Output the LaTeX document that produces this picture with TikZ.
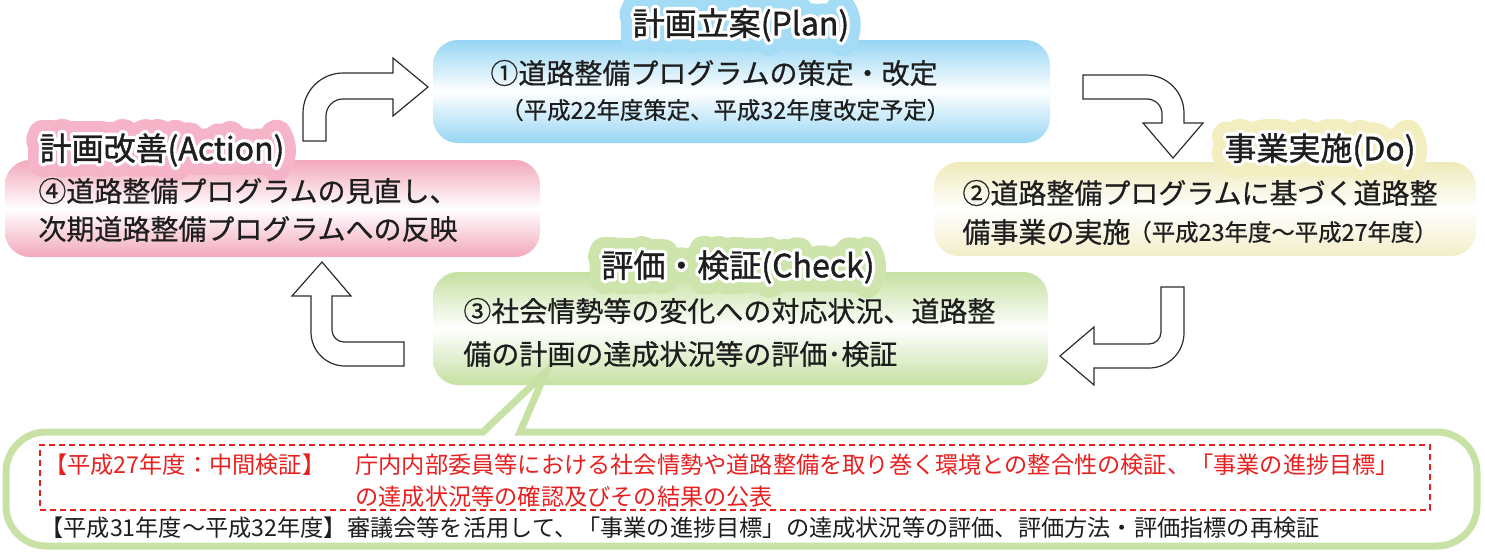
\documentclass[tikz,border=0pt]{standalone}
\usepackage{fontspec}
\newfontfamily\jp{Noto Sans CJK JP}
\newfontfamily\jpb[FakeBold=0.6]{Noto Sans CJK JP}
\newfontfamily\jpt[FakeBold=1.2]{Noto Sans CJK JP}
\newfontfamily\jphalo[FakeBold=90]{Noto Sans CJK JP}
\newfontfamily\jpring[FakeBold=22]{Noto Sans CJK JP}
\definecolor{ink}{RGB}{30,30,30}
\definecolor{pblue}{RGB}{150,214,243}
\definecolor{pyellow}{RGB}{239,234,186}
\definecolor{ppink}{RGB}{242,168,187}
\definecolor{pgreen}{RGB}{198,224,162}
\definecolor{hblue}{RGB}{165,220,245}
\definecolor{hyellow}{RGB}{243,238,192}
\definecolor{hpink}{RGB}{245,180,199}
\definecolor{hgreen}{RGB}{205,229,172}
\definecolor{cgreen}{RGB}{200,226,166}
\definecolor{pred}{RGB}{232,32,32}
\definecolor{arrowline}{RGB}{45,45,45}
\tikzset{
  box/.style={rounded corners=12.5pt, inner sep=0pt, shading=axis},
  txt/.style={font=\jpb\fontsize{14}{16}\selectfont, anchor=west, inner sep=0pt, text=ink},
  small/.style={font=\jpb\fontsize{11.7}{13}\selectfont, anchor=west, inner sep=0pt, text=ink},
  note/.style={font=\jp\fontsize{11.6}{13}\selectfont, anchor=west, inner sep=0pt},
  ttl/.style={font=\jpt\fontsize{16}{18}\selectfont, inner sep=0pt, text=ink},
  halo/.style={font=\jphalo\fontsize{16}{18}\selectfont, inner sep=0pt, line join=round, line cap=round},
  ring/.style={font=\jpring\fontsize{16}{18}\selectfont, inner sep=0pt, text=white, line join=round, line cap=round},
  blockarrow/.style={draw=arrowline, line width=0.6pt, fill=white, line join=miter},
  callout/.style={draw=cgreen, line width=3.5pt, fill=white, line join=miter},
  redframe/.style={draw=pred, line width=0.8pt, dash pattern=on 3pt off 2pt, inner sep=0pt}
}
\newcommand\glowtitle[4]{%
  \begin{scope}[line join=round]
  \node[halo,text=#3] at (#2) {\special{pdf:literal direct 1 j 1 J}#4};
  \node[ring] at (#2) {\special{pdf:literal direct 1 j 1 J}#4};
  \end{scope}
  \node[ttl] (#1) at (#2) {#4};
}
\begin{document}
\begin{tikzpicture}[x=0.5pt,y=-0.5pt]
\useasboundingbox (0,0) rectangle (1485,552);
% boxes
\node[box, top color=pblue, bottom color=pblue, middle color=white, minimum width=308.5pt, minimum height=51.5pt] (plan) at (741.5,91.5) {};
\node[box, top color=pyellow, bottom color=pyellow!80, middle color=white, minimum width=271pt, minimum height=47pt] (do) at (1205,209) {};
\node[box, top color=ppink, bottom color=ppink, middle color=white, minimum width=267.5pt, minimum height=48.5pt] (act) at (272.5,208.5) {};
\node[box, top color=pgreen, bottom color=pgreen, middle color=white, minimum width=307.5pt, minimum height=56.5pt] (check) at (740.5,328.5) {};
% block arrows
\draw[blockarrow] (303,141) -- (303,113) .. controls (303,91) and (321,73) .. (343,73) -- (393,73) -- (393,58) -- (428,87) -- (393,116) -- (393,99) -- (343,99) .. controls (333.6,99) and (326,106.6) .. (326,116) -- (326,141) -- cycle;
\draw[blockarrow] (1083,75) -- (1146,75) .. controls (1167,75) and (1184,92) .. (1184,113) -- (1184,123) -- (1203,123) -- (1173,158) -- (1143,123) -- (1162,123) -- (1162,114) .. controls (1162,105.7) and (1155.3,99) .. (1147,99) -- (1083,99) -- cycle;
\draw[blockarrow] (1161,287) -- (1184,287) -- (1184,333) .. controls (1184,352.3) and (1168.3,368) .. (1149,368) -- (1094,368) -- (1094,385) -- (1060,356) -- (1094,327) -- (1094,344) -- (1149,344) .. controls (1155.6,344) and (1161,338.6) .. (1161,332) -- cycle;
\draw[blockarrow] (322,262) -- (351,296) -- (332,296) -- (332,330) .. controls (332,336.6) and (337.4,342) .. (344,342) -- (404,342) -- (404,366) -- (345,366) .. controls (326.2,366) and (311,350.8) .. (311,332) -- (311,296) -- (292,296) -- cycle;
% callout
\draw[callout] (520,432) -- (1437,432) .. controls (1459,432) and (1477,450) .. (1477,472) -- (1477,506) .. controls (1477,528) and (1459,546) .. (1437,546) -- (46,546) .. controls (24,546) and (6,528) .. (6,506) -- (6,472) .. controls (6,450) and (24,432) .. (46,432) -- (483,432) -- (546,372) -- cycle;
\node[redframe, minimum width=695pt, minimum height=32.5pt] (frame) at (735,477.5) {};
% titles
\glowtitle{plantitle}{741,25}{hblue}{計画立案(Plan)}
\glowtitle{dotitle}{1320,150}{hyellow}{事業実施(Do)}
\glowtitle{acttitle}{162,150}{hpink}{計画改善(Action)}
\glowtitle{checktitle}{738,267}{hgreen}{評価・検証(Check)}
% box texts
\node[txt] (plan1) at (490,73) {①道路整備プログラムの策定・改定};
\node[small] (plan2) at (500,110) {（平成22年度策定、平成32年度改定予定）};
\node[txt] (do1) at (962,193) {②道路整備プログラムに基づく道路整};
\node[txt] (do2) at (962,232) {備事業の実施};
\node[small] (do3) at (1128,232) {（平成23年度～平成27年度）};
\node[txt] (act1) at (38,191) {④道路整備プログラムの見直し、};
\node[txt] (act2) at (38,229) {次期道路整備プログラムへの反映};
\node[txt] (check1) at (463,311) {③社会情勢等の変化への対応状況、道路整};
\node[txt] (check2) at (463,354) {備の計画の達成状況等の評価･検証};
% notes
\node[note, text=pred] (n1) at (44,465) {【平成27年度：中間検証】};
\node[note, text=pred] (n2) at (355,465) {庁内内部委員等における社会情勢や道路整備を取り巻く環境との整合性の検証、「事業の進捗目標」};
\node[note, text=pred] (n3) at (355,497) {の達成状況等の確認及びその結果の公表};
\node[note, text=ink] (n4) at (40,528) {【平成31年度～平成32年度】審議会等を活用して、「事業の進捗目標」の達成状況等の評価、評価方法・評価指標の再検証};
\end{tikzpicture}
\end{document}
